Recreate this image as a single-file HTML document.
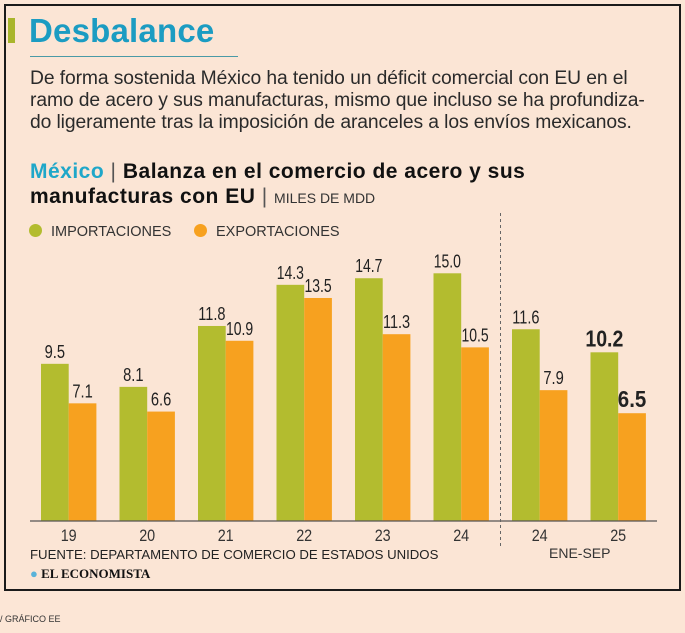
<!DOCTYPE html>
<html><head><meta charset="utf-8"><style>
body{margin:0;background:#fce6d6;width:685px;height:633px;overflow:hidden;font-family:"Liberation Sans",sans-serif;}
#frame{position:absolute;left:4px;top:4px;width:673px;height:583px;border:2px solid #1a1a1a;background:#fbe5d5;}
.t{position:absolute;white-space:nowrap;}
</style></head><body>
<div id="frame"></div>
<div class="t" style="left:8px;top:18px;width:7px;height:25px;background:#a9b52c"></div>
<div class="t" style="left:29px;top:12px;font-size:33px;font-weight:bold;color:#1b9cc2;letter-spacing:0.2px">Desbalance</div>
<div class="t" style="left:30px;top:56px;width:208px;height:1px;background:#4a9aa6"></div>
<div class="t" style="left:30px;top:68px;font-size:19.3px;line-height:22px;color:#2a2a2a;letter-spacing:-0.1px">De forma sostenida México ha tenido un déficit comercial con EU en el<br>ramo de acero y sus manufacturas, mismo que incluso se ha profundiza-<br>do ligeramente tras la imposición de aranceles a los envíos mexicanos.</div>
<div class="t" style="left:30px;top:159px;font-size:21px;line-height:25px;font-weight:bold;color:#111;letter-spacing:0.5px"><span style="color:#1fa7c9">México</span> <span style="font-weight:normal;color:#555">|</span> Balanza en el comercio de acero y sus<br>manufacturas con EU <span style="font-weight:normal;color:#555">|</span> <span style="font-weight:normal;font-size:14px;color:#333;letter-spacing:0">MILES DE MDD</span></div>
<div class="t" style="left:29px;top:224px;font-size:14.5px;color:#333"><span style="display:inline-block;width:13px;height:13px;border-radius:50%;background:#b3bc2f;vertical-align:-1px;margin-right:9px"></span>IMPORTACIONES</div>
<div class="t" style="left:194px;top:224px;font-size:14.5px;color:#333"><span style="display:inline-block;width:13px;height:13px;border-radius:50%;background:#f7a11f;vertical-align:-1px;margin-right:9px"></span>EXPORTACIONES</div>
<svg id="chart" width="685" height="633" style="position:absolute;left:0;top:0"></svg>
<div class="t" style="left:30px;top:547px;font-size:13.2px;color:#222">FUENTE: DEPARTAMENTO DE COMERCIO DE ESTADOS UNIDOS</div>
<div class="t" style="left:549px;top:545px;font-size:14px;color:#333">ENE-SEP</div>
<div class="t" style="left:30px;top:566px;font-size:13px;font-weight:bold;font-family:'Liberation Serif',serif;color:#111"><span style="color:#5ab3d9">●</span> EL ECONOMISTA</div>
<div class="t" style="left:0px;top:614px;font-size:9px;color:#333">/ GRÁFICO EE</div>
<script>
const categories=["19","20","21","22","23","24","24","25"];
const importaciones=[9.5,8.1,11.8,14.3,14.7,15.0,11.6,10.2];
const exportaciones=[7.1,6.6,10.9,13.5,11.3,10.5,7.9,6.5];
const boldLabels=[false,false,false,false,false,false,false,true];
const svg=document.getElementById('chart');
const NS='http://www.w3.org/2000/svg';
const base=521, zeroY=520.2, perUnit=16.46, x0=41, step=78.5, bw=27.7;
function y(v){return zeroY-v*perUnit;}
function gx(i){return x0+i*step;}
function mk(t,a){const e=document.createElementNS(NS,t);for(const k in a)e.setAttribute(k,a[k]);svg.appendChild(e);return e;}
categories.forEach((c,i)=>{
  [[importaciones,'#b3bc2f',0,'bar-importaciones'],[exportaciones,'#f7a11f',1,'bar-exportaciones']].forEach(([arr,col,k,nm])=>{
    const v=arr[i], x=gx(i)+k*bw;
    const r=mk('rect',{x:x,y:y(v),width:bw,height:base-y(v),fill:col});
    
    
    const b=boldLabels[i];
    const s=v.toFixed(1);
    const t=mk('text',{x:x+bw/2,y:y(v)-6,'text-anchor':'middle','font-size':b?23:18,'font-weight':b?'bold':'normal',fill:'#222',textLength:(b?9.5:6.8)*s.length,lengthAdjust:'spacingAndGlyphs'});
    t.textContent=s;
    
    
  });
  const lt=mk('text',{x:gx(i)+bw,y:541,'text-anchor':'middle','font-size':17,fill:'#333',textLength:16,lengthAdjust:'spacingAndGlyphs'});
  lt.textContent=c;
  
  
});
const ax=mk('line',{x1:30,x2:657,y1:base,y2:base,stroke:'#555','stroke-width':1.2});


const dl=mk('line',{x1:500.5,x2:500.5,y1:213,y2:548,stroke:'#666','stroke-width':1,'stroke-dasharray':'3,3'});


</script>
</body></html>
